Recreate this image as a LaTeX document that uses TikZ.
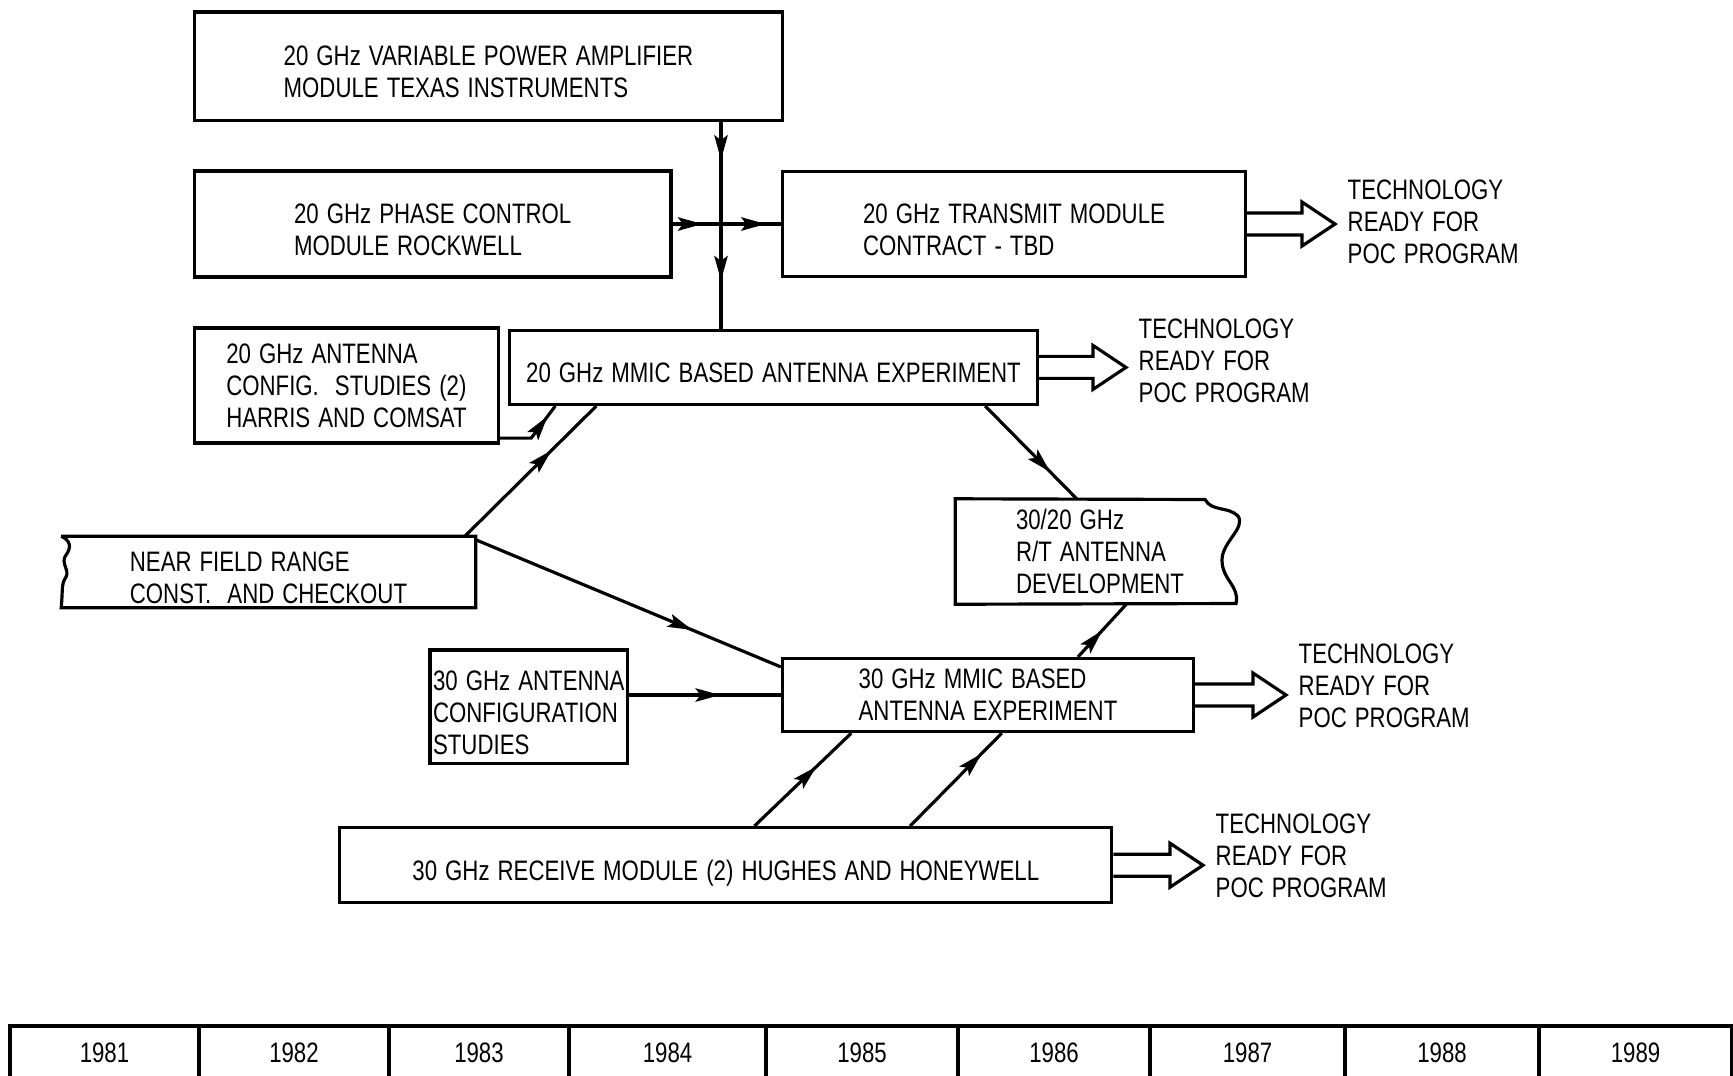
\documentclass[tikz,border=0pt]{standalone}
\usepackage{fontspec}
\newfontfamily\lettering{Liberation Sans}[FakeStretch=0.79, WordSpace=1.3]
\usepackage{tikz}
\usetikzlibrary{arrows.meta, calc, decorations.markings}
\newcommand{\letterfont}{\lettering\fontsize{8pt}{9.1pt}\selectfont}
% taller first line, drops the text a little inside its box
\newcommand{\dropline}{\rule{0pt}{8.8pt}}
\tikzstyle{block} = [draw, line width=0.9pt, inner sep=0pt, align=left, font=\letterfont]
\tikzstyle{bare} = [inner sep=0pt, align=left, font=\letterfont]
\tikzstyle{poc} = [anchor=west, inner xsep=0.12cm, inner ysep=0pt, align=left, font=\letterfont]
\tikzstyle{year} = [draw, line width=0.9pt, inner sep=0pt, font=\letterfont]
\tikzstyle{wire} = [line width=0.9pt]
\tikzset{flow/.style={wire, postaction={decorate}, decoration={markings, mark=at position #1 with {\arrow{Stealth[length=7pt, width=3.8pt, inset=1.4pt]}}}}}
% open double-line arrow from a block to its "ready" text
\newcommand{\readyarrow}[2]{%
  \draw[wire] ($(#1.east)+(0,11)$) -- ($(#1.east -| #2.west)+(-33,11)$) -- ($(#1.east -| #2.west)+(-33,22)$)
    -- (#1.east -| #2.west) -- ($(#1.east -| #2.west)+(-33,-22)$) -- ($(#1.east -| #2.west)+(-33,-11)$) -- ($(#1.east)+(0,-11)$);
}

\begin{document}
\begin{tikzpicture}[x=0.01cm, y=-0.01cm]
    \path[use as bounding box, fill=white] (0,0) rectangle (1733,1075);

    % 20 GHz transmit chain
    \node[block, minimum width=5.88cm, minimum height=1.085cm] (vpa) at (488.5,66.3) {\dropline 20 GHz VARIABLE POWER AMPLIFIER\\MODULE TEXAS INSTRUMENTS};
    \node[block, minimum width=4.763cm, minimum height=1.06cm] (phase) at (432.7,224) {\dropline 20 GHz PHASE CONTROL\\MODULE ROCKWELL};
    \node[block, minimum width=4.63cm, minimum height=1.05cm] (transmit) at (1014,224) {\dropline 20 GHz TRANSMIT MODULE\\CONTRACT - TBD};
    \coordinate (jn) at (721,224);

    % 20 GHz antenna
    \node[block, minimum width=3.04cm, minimum height=1.15cm] (cfg20) at (346.5,385.5) {20 GHz ANTENNA\\CONFIG.\ \ STUDIES (2)\\HARRIS AND COMSAT};
    \node[block, minimum width=5.28cm, minimum height=0.74cm] (mmic20) at (773.5,367.4) {\dropline 20 GHz MMIC BASED ANTENNA EXPERIMENT};

    % range and R/T antenna
    \node[bare, minimum width=4.13cm, minimum height=0.70cm] (nf) at (268.5,572) {\dropline NEAR FIELD RANGE\\CONST.\ \ AND CHECKOUT};
    \node[bare, minimum width=2.88cm, minimum height=1.04cm] (rt) at (1100,551.5) {30/20 GHz\\R/T ANTENNA\\DEVELOPMENT};

    % 30 GHz antenna and receive
    \node[block, minimum width=1.976cm, minimum height=1.136cm] (cfg30) at (528.8,706.8) {\dropline 30 GHz ANTENNA\\CONFIGURATION\\STUDIES};
    \node[block, minimum width=4.11cm, minimum height=0.73cm] (mmic30) at (988,695) {30 GHz MMIC BASED\\ANTENNA EXPERIMENT};
    \node[block, minimum width=7.716cm, minimum height=0.752cm, text depth=0pt] (recv) at (725.8,865.2) {\dropline 30 GHz RECEIVE MODULE (2) HUGHES AND HONEYWELL};

    % outcome texts
    \node[poc] (poc1) at (1335,222) {TECHNOLOGY\\READY FOR\\POC PROGRAM};
    \node[poc] (poc2) at (1126,361) {TECHNOLOGY\\READY FOR\\POC PROGRAM};
    \node[poc] (poc3) at (1286,686) {TECHNOLOGY\\READY FOR\\POC PROGRAM};
    \node[poc] (poc4) at (1203,856) {TECHNOLOGY\\READY FOR\\POC PROGRAM};

    % broken-edge outlines
    \draw[wire] (nf.north west) -- (nf.north east) -- (nf.south east) -- (nf.south west)
        .. controls (63,590) and (61,584) .. (66,577) .. controls (70,570) and (60,563) .. (66,555)
        .. controls (72,547) and (70,540) .. (nf.north west);
    \draw[wire] (rt.south west) -- (rt.north west) -- (1205,499.5)
        .. controls (1212,512) and (1228,506) .. (1238,516) .. controls (1246,528) and (1222,542) .. (1222,560)
        .. controls (1222,580) and (1240,586) .. (1236,603.5) -- cycle;

    % junction arrows
    \draw[flow=0.37] (vpa.south -| jn) -- (jn);
    \draw[flow=0.54] (jn) -- (jn |- mmic20.north);
    \draw[flow=0.62] (phase.east) -- (jn);
    \draw[flow=0.75] (jn) -- (transmit.west);

    % diagonal feeds
    \draw[flow=0.82] ([yshift=0.065cm]cfg20.south east) -- ++(31,0) -- ([xshift=0.475cm]mmic20.south west);
    \draw[flow=0.66] ([xshift=-0.11cm]nf.north east) -- ([xshift=0.885cm]mmic20.south west);
    \draw[flow=0.71] ([yshift=-0.035cm]nf.north east) -- ([yshift=-0.1cm]mmic30.north west);
    \draw[flow=0.71] ([xshift=-0.54cm]mmic20.south east) -- ([xshift=1.214cm]rt.north west);
    \draw[flow=0.5] ([xshift=2.97cm]mmic30.north west) -- ([xshift=1.71cm]rt.south west);
    \draw[flow=0.6] (mmic30.west -| cfg30.east) -- (mmic30.west);
    \draw[flow=0.64] ([xshift=4.16cm]recv.north west) -- ([xshift=0.705cm]mmic30.south west);
    \draw[flow=0.78] ([xshift=5.716cm]recv.north west) -- ([xshift=2.209cm]mmic30.south west);

    % ready arrows
    \readyarrow{transmit}{poc1}
    \readyarrow{mmic20}{poc2}
    \readyarrow{mmic30}{poc3}
    \readyarrow{recv}{poc4}

    % time scale
    \foreach \yr/\xa/\xb in {1981/10/199, 1982/199/389, 1983/389/569, 1984/569/766, 1985/766/958, 1986/958/1150, 1987/1150/1345, 1988/1345/1539, 1989/1539/1732}
        \node[year, minimum width={(\xb-\xa)*0.01cm}, minimum height=0.54cm] (y\yr) at ({(\xa+\xb)/2},1053) {\yr};
\end{tikzpicture}
\end{document}
